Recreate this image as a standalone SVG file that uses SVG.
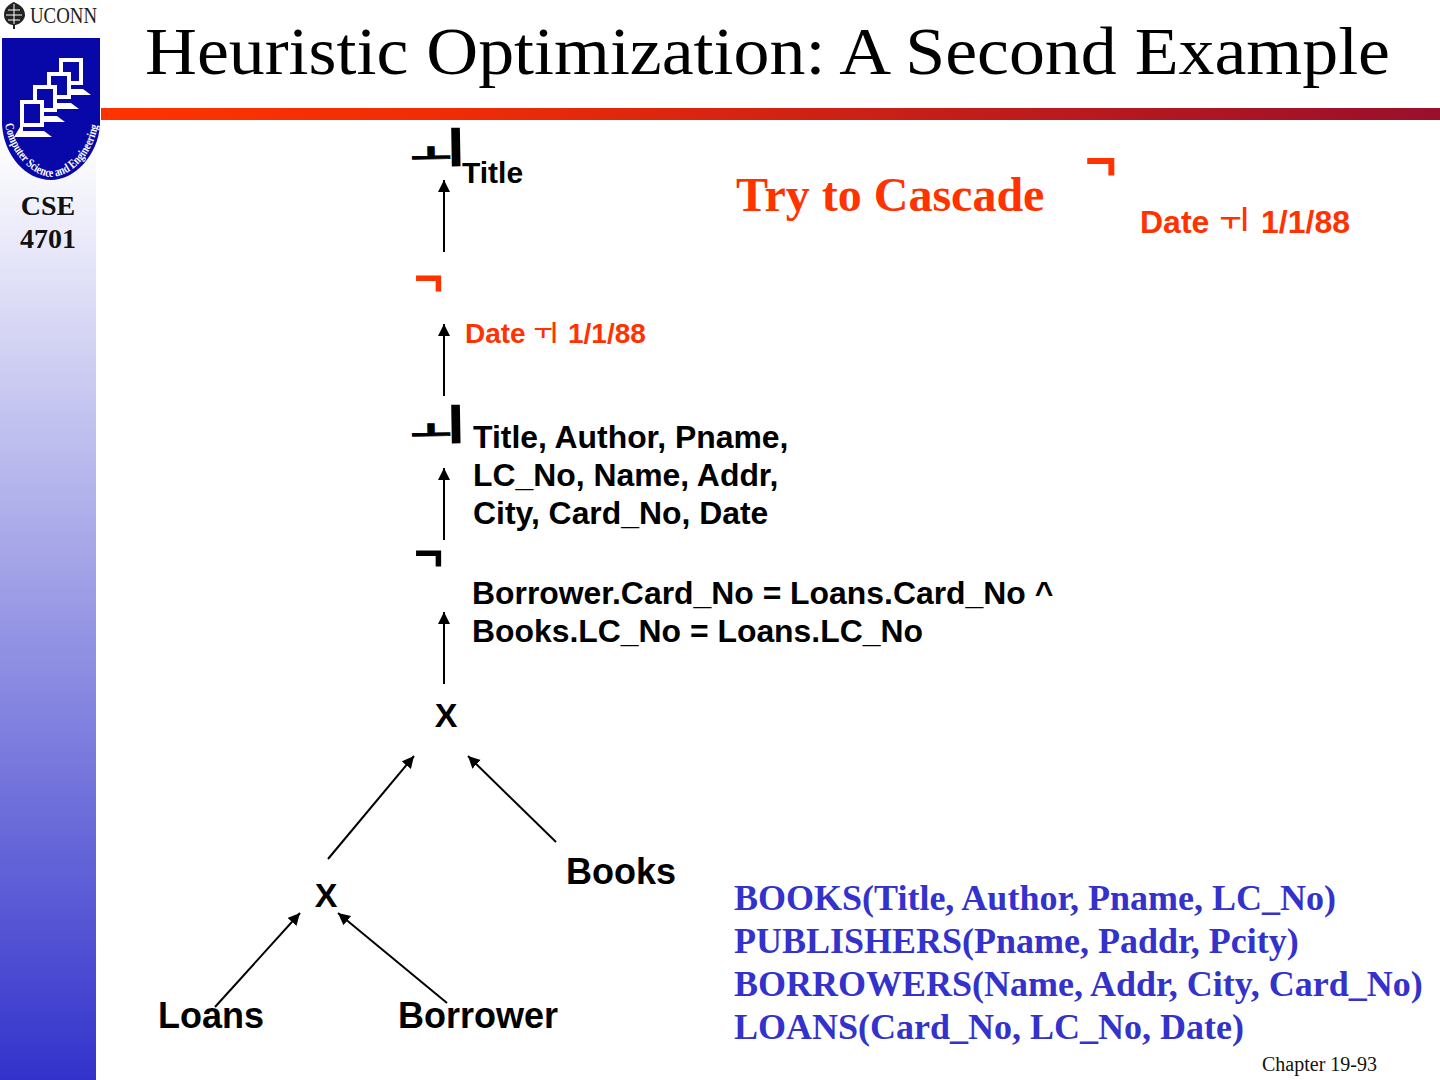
<svg xmlns="http://www.w3.org/2000/svg" xmlns:xlink="http://www.w3.org/1999/xlink" width="1440" height="1080" viewBox="0 0 1440 1080">
<defs>
<linearGradient id="side" x1="0" y1="0" x2="0" y2="1"><stop offset="0" stop-color="#ffffff"/><stop offset="0.13" stop-color="#ffffff"/><stop offset="1" stop-color="#3333cc"/></linearGradient>
<linearGradient id="bar" x1="0" y1="0" x2="1" y2="0"><stop offset="0" stop-color="#ff3300"/><stop offset="0.25" stop-color="#f02d05"/><stop offset="1" stop-color="#990f2c"/></linearGradient>
<marker id="arrow" markerUnits="userSpaceOnUse" markerWidth="14" markerHeight="14" refX="12" refY="6" orient="auto"><path d="M0,0 L12,6 L0,12 Z" fill="#000"/></marker>
<path id="curve" d="M5,124 C10,155 33,176 51,177 C72,176 94,155 99,120"/>
<g id="mon"><path d="M0,0H24V27H0Z" fill="#fff"/><path d="M4,4H20V23H4Z" fill="#0808a8"/><path d="M-6,37H32L24,31H3V27H0Z" fill="#fff"/></g>
</defs>
<style>
text{font-family:"Liberation Sans",Arial,sans-serif}
.s{font-family:"Liberation Serif","Times New Roman",serif}
.b{font-weight:bold}
.n{font-size:36px;font-weight:bold;fill:#000}
.l{font-size:31.9px;font-weight:bold;fill:#000}
.o{font-weight:bold;fill:#ff3300}
.sch{font-family:"Liberation Serif",serif;font-size:36px;font-weight:bold;fill:#3333cc}
.k{font-family:"Noto Sans CJK KR","Liberation Sans",sans-serif;font-weight:bold}
.pi{font-size:44px;stroke:#000;stroke-width:1.6px;fill:#000}
.pb{font-family:"Liberation Sans",sans-serif;font-size:68px;stroke:none}
.c{stroke:#000;stroke-width:2;fill:none;marker-end:url(#arrow)}
</style>
<rect width="1440" height="1080" fill="#fff"/>
<g id="sidebar">
<rect x="0" y="0" width="96" height="1080" fill="url(#side)"/>
</g>
<rect id="title-bar" x="101" y="108" width="1339" height="12" fill="url(#bar)"/>
<g id="logo">
<rect x="0" y="0" width="100" height="38" fill="#fff"/>
<path d="M14,2 C20,5 25,8 25,15 C25,21 18,25 15,25 L15,29 L13,29 L13,25 C9,25 4,21 4,15 C4,8 9,4 14,2Z" fill="#222"/>
<path d="M8,10H20M6,15H22M8,20H20M14,4V24" stroke="#fff" stroke-width="1" fill="none"/>
<text x="30" y="23" class="s" font-size="23" fill="#222" textLength="67" lengthAdjust="spacingAndGlyphs">UCONN</text>
<path d="M2,38 H100 V125 C98,155 75,180 51,180 C25,180 4,155 2,125 Z" fill="#0808a8"/>
<use xlink:href="#mon" x="59" y="58"/>
<use xlink:href="#mon" x="47" y="72"/>
<use xlink:href="#mon" x="33" y="85"/>
<use xlink:href="#mon" x="20" y="100"/>
<text class="s" font-size="12.5" fill="#fff" font-weight="bold"><textPath xlink:href="#curve" textLength="150" lengthAdjust="spacingAndGlyphs">Computer Science and Engineering</textPath></text>
<text x="48" y="215" text-anchor="middle" class="s b" font-size="28" fill="#111">CSE</text>
<text x="48" y="248" text-anchor="middle" class="s b" font-size="28" fill="#111">4701</text>
</g>
<text id="title" x="145" y="74" class="s" font-size="67" fill="#000" textLength="1245" lengthAdjust="spacingAndGlyphs">Heuristic Optimization: A Second Example</text>
<g id="connectors">
<path class="c" d="M444,252 V180"/>
<path class="c" d="M444,396 V324"/>
<path class="c" d="M444,540 V468"/>
<path class="c" d="M444,684 V612"/>
<path class="c" d="M328,859 L414,756"/>
<path class="c" d="M556,842 L468,756"/>
<path class="c" d="M215,1007 L300,913"/>
<path class="c" d="M447,1003 L338,913"/>
</g>
<g id="project-title">
<text class="k pi" transform="translate(411,164) rotate(-1) scale(1,0.6)">ㅗ<tspan class="pb" x="35.5" y="-10">|</tspan></text>
<text x="462" y="183" class="b" font-size="30" fill="#000">Title</text>
</g>
<g id="select-date">
<text x="414" y="295" class="o" font-size="50">¬</text>
<text x="465" y="343" class="o" font-size="28">Date</text>
<text x="534" y="339" class="k" font-size="20" fill="#ff3300">ㅜ</text>
<text x="551" y="338" font-size="22" font-weight="bold" fill="#ff3300">|</text>
<text x="568" y="343" class="o" font-size="28">1/1/88</text>
</g>
<g id="project-all">
<text class="k pi" transform="translate(411,441) rotate(-1) scale(1,0.6)">ㅗ<tspan class="pb" x="35.5" y="-10">|</tspan></text>
<text x="473" y="448" class="l">Title, Author, Pname,</text>
<text x="473" y="486" class="l">LC_No, Name, Addr,</text>
<text x="473" y="524" class="l">City, Card_No, Date</text>
</g>
<g id="select-join">
<text x="414" y="570" font-size="50" font-weight="bold" fill="#000">¬</text>
<text x="472" y="604" class="l">Borrower.Card_No = Loans.Card_No ^</text>
<text x="472" y="642" class="l">Books.LC_No = Loans.LC_No</text>
</g>
<g id="cross-top"><text x="446" y="727" text-anchor="middle" class="n" style="font-size:34px">X</text></g>
<g id="books"><text x="566" y="884" class="n">Books</text></g>
<g id="cross-bottom"><text x="326" y="907" text-anchor="middle" class="n" style="font-size:34px">X</text></g>
<g id="loans"><text x="158" y="1028" class="n">Loans</text></g>
<g id="borrower"><text x="398" y="1028" class="n">Borrower</text></g>
<g id="cascade">
<text x="736" y="211" class="s o" font-size="48">Try to Cascade</text>
<text x="1085" y="179" class="o" font-size="54">¬</text>
<text x="1140" y="233" class="o" font-size="32">Date</text>
<text x="1220" y="229" class="k" font-size="23" fill="#ff3300">ㅜ</text>
<text x="1241" y="226" font-size="26" font-weight="bold" fill="#ff3300">|</text>
<text x="1261" y="233" class="o" font-size="32">1/1/88</text>
</g>
<g id="schema">
<text x="734" y="910" class="sch">BOOKS(Title, Author, Pname, LC_No)</text>
<text x="734" y="953" class="sch">PUBLISHERS(Pname, Paddr, Pcity)</text>
<text x="734" y="996" class="sch">BORROWERS(Name, Addr, City, Card_No)</text>
<text x="734" y="1039" class="sch">LOANS(Card_No, LC_No, Date)</text>
</g>
<text id="footer" x="1262" y="1071" class="s" font-size="20" fill="#111">Chapter 19-93</text>
</svg>
